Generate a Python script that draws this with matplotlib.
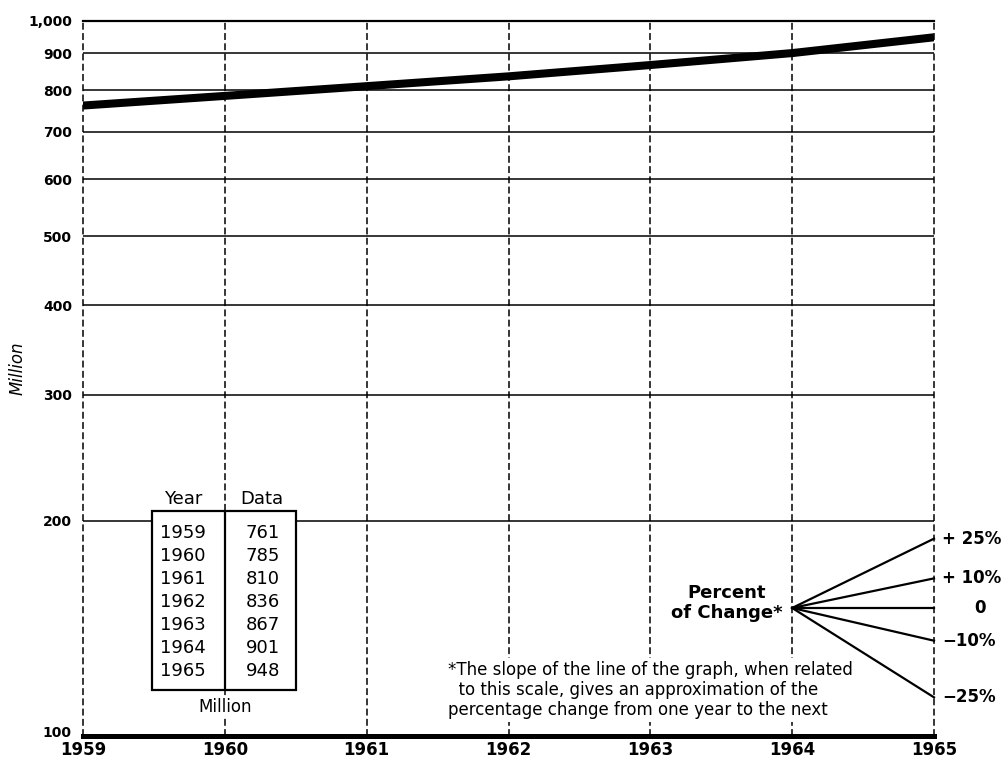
import matplotlib
matplotlib.use("Agg")
import matplotlib.pyplot as plt
from matplotlib import font_manager
from matplotlib.patches import Rectangle
from matplotlib.ticker import NullLocator, NullFormatter
from matplotlib.transforms import ScaledTranslation

# ---------------- data ----------------
years = [1959, 1960, 1961, 1962, 1963, 1964, 1965]
values = [761, 785, 810, 836, 867, 901, 948]
ytick_values = [100, 200, 300, 400, 500, 600, 700, 800, 900, 1000]
ytick_labels = ["100", "200", "300", "400", "500", "600", "700", "800", "900", "1,000"]
table_years = ["1959", "1960", "1961", "1962", "1963", "1964", "1965"]
table_data = ["761", "785", "810", "836", "867", "901", "948"]
pct_changes = [25, 10, 0, -10, -25]
pct_labels = ["+ 25%", "+ 10%", "0", "\u221210%", "\u221225%"]
fan_start_year = 1964
fan_end_year = 1965
fan_base = 151

# ---------------- fonts ----------------
names = {f.name for f in font_manager.fontManager.ttflist}
narrow = ["Liberation Sans Narrow", "DejaVu Sans"] if "Liberation Sans Narrow" in names else ["DejaVu Sans"]
plt.rcParams["font.family"] = ["DejaVu Sans"]

W, H = 1003, 760
fig = plt.figure(figsize=(W / 100, H / 100), dpi=100)
L, R, T, B = 83, 934, 20.7, 736
ax = fig.add_axes([L / W, 1 - B / H, (R - L) / W, (B - T) / H])


def axx(px):
    return (px - L) / (R - L)


def axy(py):
    return (B - py) / (B - T)


ax.set_yscale("log")
ax.set_xlim(years[0], years[-1])
ax.set_ylim(ytick_values[0], ytick_values[-1])

# gridlines
for v in ytick_values[1:-1]:
    ax.axhline(v, color="black", lw=1.1, zorder=1)
for yr in years:
    ax.axvline(yr, color="black", lw=1.1, ls=(0, (4.5, 2.2)), zorder=1, clip_on=False)

for s in ["left", "right"]:
    ax.spines[s].set_visible(False)
ax.spines["top"].set_linewidth(1.6)
ax.spines["bottom"].set_linewidth(3.6)

# main data line
ax.plot(years, values, color="black", lw=5.8, solid_capstyle="butt", zorder=3)

# ticks
ax.set_yticks(ytick_values)
ax.set_yticklabels(ytick_labels)
ax.yaxis.set_minor_locator(NullLocator())
ax.yaxis.set_minor_formatter(NullFormatter())
ax.set_xticks(years)
ax.set_xticklabels([str(y) for y in years])
ax.tick_params(axis="y", length=0, pad=8, labelsize=10)
ax.tick_params(axis="x", length=0, pad=3.5, labelsize=12)
for lab in ax.get_yticklabels() + ax.get_xticklabels():
    lab.set_fontweight("bold")
# nudge the bottom "100" label up slightly, as in the reference
bottom_lab = ax.get_yticklabels()[0]
bottom_lab.set_transform(bottom_lab.get_transform() + ScaledTranslation(0, 0.045, fig.dpi_scale_trans))

fig.text(18 / W, 1 - 368 / H, "Million", rotation=90, ha="center", va="center",
         fontsize=12, style="italic")

# ---------------- table ----------------
ax.add_patch(Rectangle((axx(152), axy(690)), axx(296) - axx(152), axy(511) - axy(690),
                       transform=ax.transAxes, facecolor="white", edgecolor="black",
                       lw=1.6, zorder=4))
ax.plot([years[1], years[1]], [axy(511), axy(690)], transform=ax.get_xaxis_transform(),
        color="black", lw=1.6, zorder=5, solid_capstyle="butt")
ax.text(axx(183), axy(499), "Year", transform=ax.transAxes, ha="center", va="center",
        fontsize=13, zorder=6)
ax.text(axx(262), axy(499), "Data", transform=ax.transAxes, ha="center", va="center",
        fontsize=13, zorder=6)
for i, (ty, td) in enumerate(zip(table_years, table_data)):
    py = 533 + i * 23
    ax.text(axx(183), axy(py), ty, transform=ax.transAxes, ha="center", va="center",
            fontsize=13, zorder=6)
    ax.text(axx(263), axy(py), td, transform=ax.transAxes, ha="center", va="center",
            fontsize=13, zorder=6)
ax.text(axx(225), axy(707), "Million", transform=ax.transAxes, ha="center", va="center",
        fontsize=12, family=narrow, zorder=6,
        bbox=dict(facecolor="white", edgecolor="none", pad=0.5))

# ---------------- percent of change fan ----------------
for p, lab in zip(pct_changes, pct_labels):
    end = fan_base * (1 + p / 100)
    ax.plot([fan_start_year, fan_end_year], [fan_base, end], color="black", lw=1.6,
            zorder=3, clip_on=False)
    if p == 0:
        ax.annotate(lab, (fan_end_year, end), xytext=(33, 0), textcoords="offset points",
                    ha="center", va="center", fontsize=12, fontweight="bold",
                    annotation_clip=False)
    else:
        ax.annotate(lab, (fan_end_year, end), xytext=(6, 0), textcoords="offset points",
                    ha="left", va="center", fontsize=12, fontweight="bold",
                    annotation_clip=False)

ax.text(axx(727), axy(603), "Percent\nof Change*", transform=ax.transAxes, ha="center",
        va="center", fontsize=13, fontweight="bold", multialignment="center",
        linespacing=1.2, zorder=6)

ax.text(axx(448), axy(690),
        "*The slope of the line of the graph, when related\n"
        "  to this scale, gives an approximation of the\n"
        "percentage change from one year to the next",
        transform=ax.transAxes, ha="left", va="center", fontsize=12, family=narrow,
        linespacing=1.12, zorder=6,
        bbox=dict(facecolor="white", edgecolor="none", pad=2))

fig.savefig("out.png", dpi=100)
